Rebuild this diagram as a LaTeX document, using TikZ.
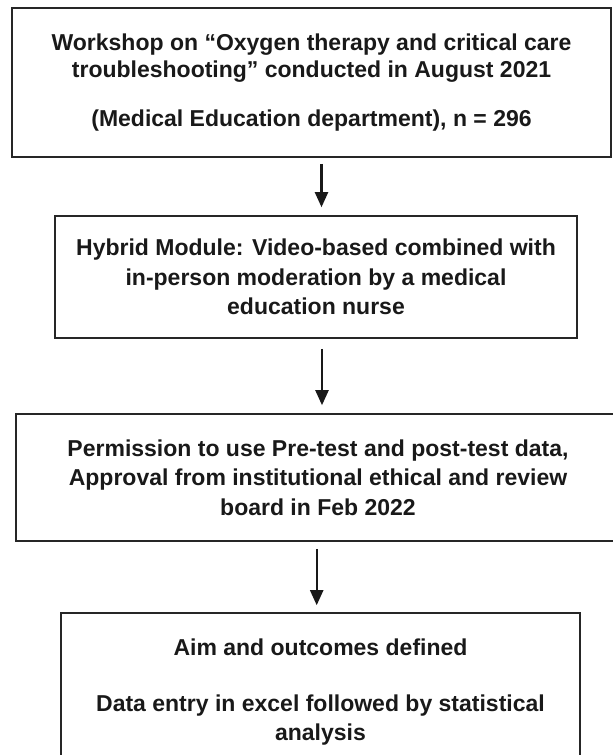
\documentclass[tikz,border=0pt]{standalone}
\usepackage{fontspec}
\setmainfont{Liberation Sans}
\usepackage{tikz}
\usetikzlibrary{arrows.meta}

\tikzset{
    stepbox/.style={rectangle, draw=black!85, line width=1.6pt, inner sep=0pt,
        align=center, text=black!90,
        font=\fontsize{23}{29.5}\selectfont\bfseries},
    flow/.style={line width=2.2pt, black!90, -{Triangle[width=13pt,length=15pt]}}
}

\begin{document}
\begin{tikzpicture}[x=1pt, y=-1pt]

    \useasboundingbox (0,0) rectangle (613,755);
    \clip (0,0) rectangle (613,755);

    \node (work) [stepbox, minimum width=599pt, minimum height=149pt] at (311.5,82.5)
        {Workshop on “Oxygen therapy and critical care\\[-2.5pt]
         troubleshooting” conducted in August 2021\\[20pt]
         (Medical Education department), n = 296};
    \node (hybrid) [stepbox, minimum width=522pt, minimum height=122pt] at (316,277)
        {Hybrid Module: Video-based combined with\\
         in-person moderation by a medical\\
         education nurse};
    \node (perm) [stepbox, minimum width=604pt, minimum height=127pt] at (318,477.5)
        {Permission to use Pre-test and post-test data,\\
         Approval from institutional ethical and review\\
         board in Feb 2022};
    \node (aim) [stepbox, minimum width=519pt, minimum height=158pt] at (320.5,692)
        {Aim and outcomes defined\\[26.5pt]
         Data entry in excel followed by statistical\\
         analysis};

    \draw[flow, shorten <=6pt, shorten >=8pt] ([xshift=10pt]work.south) -- ([xshift=10pt]work.south |- hybrid.north);
    \draw[flow, shorten <=10pt, shorten >=8pt] ([xshift=6pt]hybrid.south) -- ([xshift=6pt]hybrid.south |- perm.north);
    \draw[flow, shorten <=7pt, shorten >=7pt] ([xshift=-1.3pt]perm.south) -- ([xshift=-1.3pt]perm.south |- aim.north);

\end{tikzpicture}
\end{document}
